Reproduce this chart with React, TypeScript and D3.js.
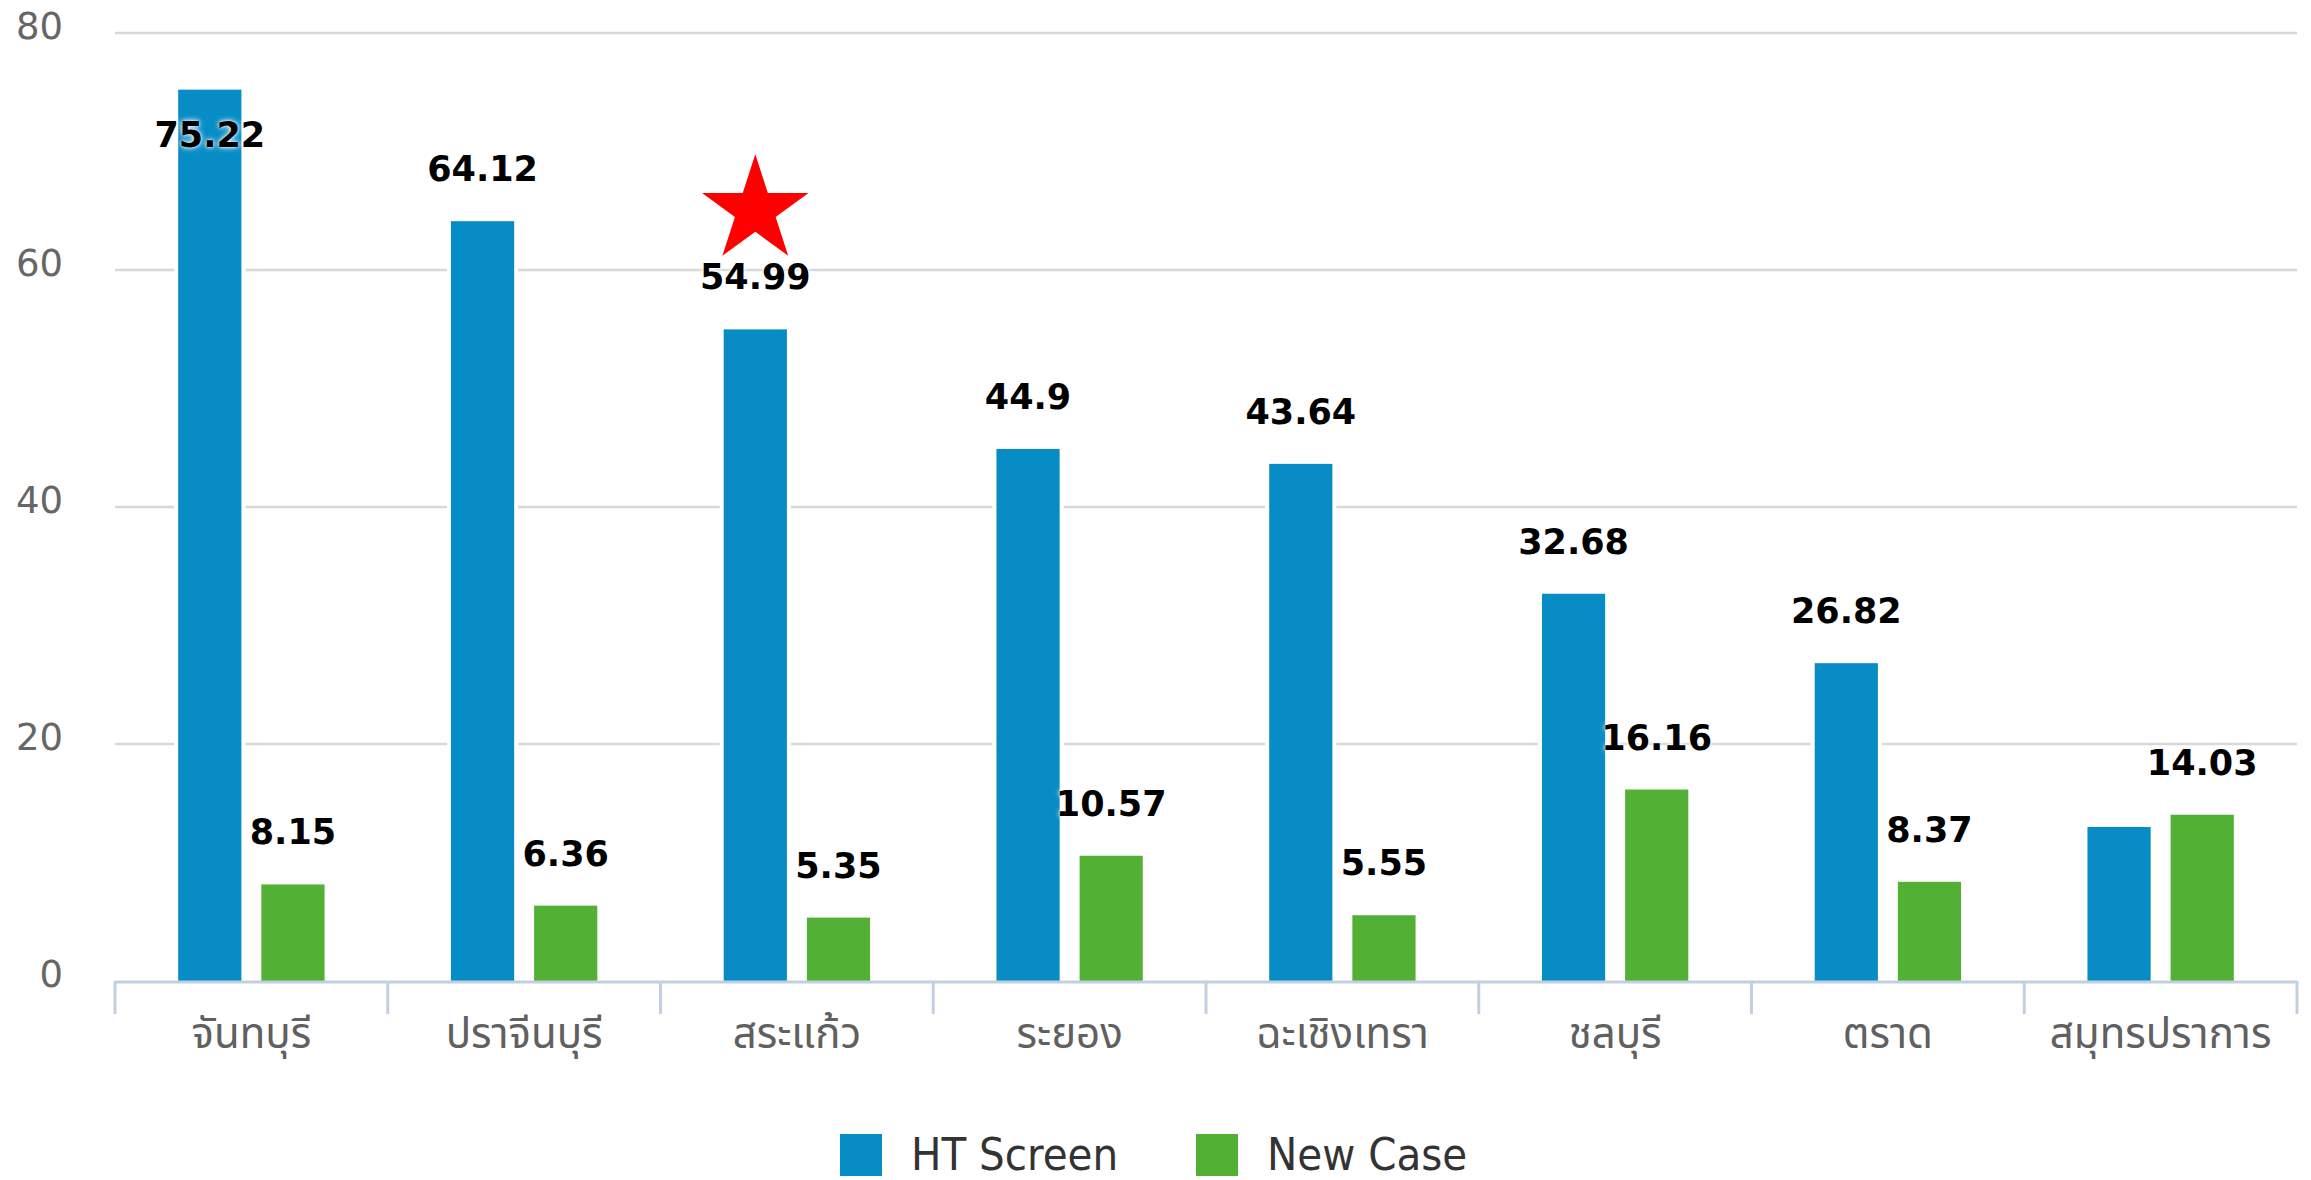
import React from 'react';
import * as d3 from 'd3';

// provinces (x axis)
const categories = ['จันทบุรี', 'ปราจีนบุรี', 'สระแก้ว', 'ระยอง', 'ฉะเชิงเทรา', 'ชลบุรี', 'ตราด', 'สมุทรปราการ'];
// series values
const htScreen = [75.22, 64.12, 54.99, 44.9, 43.64, 32.68, 26.82, 13.0];
const newCase = [8.15, 6.36, 5.35, 10.57, 5.55, 16.16, 8.37, 14.03];
// last HT label is hidden in the original (overlaps)
const htLabelShown = [true, true, true, true, true, true, true, false];
const seriesNames = ['HT Screen', 'New Case'];
const seriesColors = ['#078CC6', '#52B135'];
const yTicks = [0, 20, 40, 60, 80];
const starCategory = 'สระแก้ว';

const W = 2311;
const H = 1180;
const plotLeft = 115;
const plotRight = 2297;
const plotTop = 33;
const plotBottom = 981;

export default function App() {
  const x0 = d3.scaleBand<string>().domain(categories).range([plotLeft, plotRight]);
  const x1 = d3.scaleBand<string>()
    .domain(seriesNames)
    .range([0, x0.bandwidth()])
    .paddingInner(0.24)
    .paddingOuter(0.76);
  const y = d3.scaleLinear().domain([0, 80]).range([plotBottom, plotTop]);
  const series = [htScreen, newCase];

  const starPath = d3.symbol(d3.symbolStar, 3520)() as string;
  const starIdx = categories.indexOf(starCategory);

  const labelFont = "'DejaVu Sans', Verdana, sans-serif";
  const thaiFont = "Tahoma, 'Noto Sans Thai', 'Loma', 'Garuda', 'Noto Sans', sans-serif";

  return (
    <svg width={W} height={H} style={{ position: 'absolute', left: 0, top: 0, background: '#fff' }}>
      {/* grid */}
      {yTicks.filter(t => t > 0).map(t => (
        <line key={'g' + t} x1={plotLeft} x2={plotRight} y1={y(t)} y2={y(t)} stroke="#d8d8d8" strokeWidth={2.5} />
      ))}
      {/* y labels */}
      {yTicks.map(t => (
        <text key={'yl' + t} x={63} y={y(t) + 6} textAnchor="end" fontSize={37}
          fontFamily={labelFont} fill="#666">{t}</text>
      ))}

      {/* bars */}
      {series.map((vals, si) => (
        <g key={'s' + si}>
          {vals.map((v, i) => {
            const bx = (x0(categories[i]) as number) + (x1(seriesNames[si]) as number);
            const bw = x1.bandwidth();
            return (
              <g key={i}>
                <rect x={bx - 4} y={y(v) - 4} width={bw + 8} height={y(0) - y(v) + 4} fill="#fff" />
                <rect x={bx} y={y(v)} width={bw} height={y(0) - y(v)} fill={seriesColors[si]} />
              </g>
            );
          })}
        </g>
      ))}

      {/* x axis */}
      <line x1={plotLeft} x2={plotRight} y1={plotBottom + 1} y2={plotBottom + 1} stroke="#c0d0e0" strokeWidth={3} />
      {[...categories.map(c => x0(c) as number), plotRight].map((tx, i) => (
        <line key={'t' + i} x1={tx} x2={tx} y1={plotBottom} y2={plotBottom + 33} stroke="#c0d0e0" strokeWidth={3} />
      ))}
      {categories.map(c => (
        <text key={'c' + c} x={(x0(c) as number) + x0.bandwidth() / 2} y={1048} textAnchor="middle"
          fontSize={42} fontFamily={thaiFont} fill="#606060">{c}</text>
      ))}

      {/* data labels */}
      {series.map((vals, si) => (
        <g key={'dl' + si}>
          {vals.map((v, i) => {
            if (si === 0 && !htLabelShown[i]) return null;
            const cx = (x0(categories[i]) as number) + (x1(seriesNames[si]) as number) + x1.bandwidth() / 2;
            const top = y(v);
            const inside = top - 68 < plotTop;
            const by = inside ? top + 57 : top - 40;
            return (
              <text key={i} x={cx} y={by} textAnchor="middle" fontSize={35} fontWeight="bold"
                fontFamily={labelFont} fill="#000"
                style={{ textShadow: '0 0 6px #fff, 0 0 3px #fff' }}>{v}</text>
            );
          })}
        </g>
      ))}

      {/* star marker */}
      {starIdx >= 0 && (
        <path d={starPath} fill="#ff0000"
          transform={`translate(${(x0(starCategory) as number) + (x1(seriesNames[0]) as number) + x1.bandwidth() / 2},${y(htScreen[starIdx]) - 119})`} />
      )}

      {/* legend */}
      {seriesNames.map((n, i) => {
        const lx = [840, 1196][i];
        return (
          <g key={'lg' + n}>
            <rect x={lx} y={1134} width={42} height={42} fill={seriesColors[i]} />
            <text x={lx + 71} y={1170} fontSize={45}
              fontFamily="'DejaVu Sans Condensed', 'Liberation Sans Narrow', sans-serif"
              fontStretch="condensed" fill="#333">{n}</text>
          </g>
        );
      })}
    </svg>
  );
}
